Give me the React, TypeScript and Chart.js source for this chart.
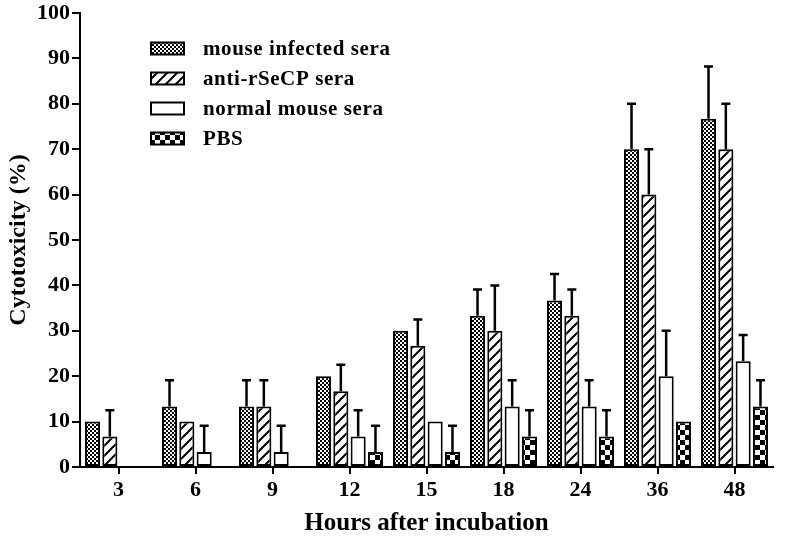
import { useEffect, useRef } from 'react';
import { Chart, registerables } from 'chart.js';

Chart.register(...registerables);

const categories = ['3', '6', '9', '12', '15', '18', '24', '36', '48'];
const seriesNames = ['mouse infected sera', 'anti-rSeCP sera', 'normal mouse sera', 'PBS'];
const infected = [10, 13.3, 13.3, 20, 30, 33.3, 36.7, 70, 76.7];
const infectedErr = [0, 5.8, 5.8, 0, 0, 5.8, 5.8, 10, 11.5];
const antiSera = [6.7, 10, 13.3, 16.7, 26.7, 30, 33.3, 60, 70];
const antiErr = [5.8, 0, 5.8, 5.8, 5.8, 10, 5.8, 10, 10];
const normalSera = [0, 3.3, 3.3, 6.7, 10, 13.3, 13.3, 20, 23.3];
const normalErr = [0, 5.8, 5.8, 5.8, 0, 5.8, 5.8, 10, 5.8];
const pbs = [0, 0, 0, 3.3, 3.3, 6.7, 6.7, 10, 13.3];
const pbsErr = [0, 0, 0, 5.8, 5.8, 5.8, 5.8, 0, 5.8];
const yTicks = [0, 10, 20, 30, 40, 50, 60, 70, 80, 90, 100];

const FONT = "'Liberation Serif', 'Times New Roman', serif";

function makePattern(kind: string): CanvasPattern | string {
  const c = document.createElement('canvas');
  const ctx = c.getContext('2d')!;
  if (kind === 'fine') {
    c.width = 4; c.height = 4;
    ctx.fillStyle = '#fff'; ctx.fillRect(0, 0, 4, 4);
    ctx.fillStyle = '#000';
    ctx.fillRect(0, 0, 2, 2); ctx.fillRect(2, 2, 2, 2);
  } else if (kind === 'diag') {
    const s = 10;
    c.width = s; c.height = s;
    ctx.fillStyle = '#fff'; ctx.fillRect(0, 0, s, s);
    ctx.strokeStyle = '#000'; ctx.lineWidth = 2;
    ctx.beginPath();
    ctx.moveTo(-2, s + 2); ctx.lineTo(s + 2, -2);
    ctx.moveTo(-2, 2); ctx.lineTo(2, -2);
    ctx.moveTo(s - 2, s + 2); ctx.lineTo(s + 2, s - 2);
    ctx.stroke();
  } else if (kind === 'checker') {
    const s = 10;
    c.width = s; c.height = s;
    ctx.fillStyle = '#fff'; ctx.fillRect(0, 0, s, s);
    ctx.fillStyle = '#000';
    ctx.fillRect(0, 0, 5, 5); ctx.fillRect(5, 5, 5, 5);
  } else {
    return '#fff';
  }
  return ctx.createPattern(c, 'repeat')!;
}

export default function App() {
  const ref = useRef<HTMLCanvasElement>(null);
  useEffect(() => {
    document.body.style.margin = '0';
    const fills = [makePattern('fine'), makePattern('diag'), makePattern('none'), makePattern('checker')];
    const values = [infected, antiSera, normalSera, pbs];
    const errs = [infectedErr, antiErr, normalErr, pbsErr];

    const errorBars = {
      id: 'errorBars',
      afterDatasetsDraw(chart: any) {
        const ctx = chart.ctx;
        const ys = chart.scales.y;
        ctx.save();
        ctx.strokeStyle = '#000';
        ctx.lineWidth = 2.5;
        chart.data.datasets.forEach((ds: any, i: number) => {
          const meta = chart.getDatasetMeta(i);
          meta.data.forEach((bar: any, j: number) => {
            const e = errs[i][j];
            if (!e) return;
            const top = ys.getPixelForValue(ds.data[j] + e);
            ctx.beginPath();
            ctx.moveTo(bar.x, bar.y);
            ctx.lineTo(bar.x, top);
            ctx.moveTo(bar.x - 4.5, top);
            ctx.lineTo(bar.x + 4.5, top);
            ctx.stroke();
          });
        });
        ctx.restore();
      },
    };

    const customLegend = {
      id: 'customLegend',
      afterDraw(chart: any) {
        const ctx = chart.ctx;
        ctx.save();
        ctx.font = `bold 21px ${FONT}`;
        try { (ctx as any).letterSpacing = '0.6px'; } catch (e) { /* ignore */ }
        ctx.textBaseline = 'middle';
        seriesNames.forEach((name, i) => {
          const y = 48.5 + i * 30;
          ctx.fillStyle = fills[i];
          ctx.fillRect(151, y - 6, 33, 12);
          ctx.strokeStyle = '#000';
          ctx.lineWidth = 2;
          ctx.strokeRect(151, y - 6, 33, 12);
          ctx.fillStyle = '#000';
          ctx.fillText(name, 203, y + 1);
        });
        ctx.restore();
      },
    };

    const chart = new Chart(ref.current!, {
      type: 'bar',
      data: {
        labels: categories,
        datasets: values.map((v, i) => ({
          label: seriesNames[i],
          data: v,
          backgroundColor: fills[i] as any,
          borderColor: '#000',
          borderWidth: 2,
          borderSkipped: false,
          categoryPercentage: 0.9,
          barPercentage: 0.87,
        })),
      },
      options: {
        animation: false,
        responsive: false,
        layout: { padding: { top: 12, right: 12, left: 0, bottom: 0 } },
        plugins: { legend: { display: false }, tooltip: { enabled: false } },
        scales: {
          x: {
            grid: { display: true, drawOnChartArea: false, drawTicks: true, tickLength: 7, offset: false, color: '#000', lineWidth: 2 },
            border: { display: true, color: '#000', width: 2 },
            ticks: { color: '#000', font: { family: FONT, size: 22, weight: 'bold', lineHeight: 1 }, padding: 5 },
            title: { display: true, text: 'Hours after incubation', color: '#000', font: { family: FONT, size: 25, weight: 'bold', lineHeight: 1 }, padding: { top: 0, bottom: 0 } },
            afterFit(scale: any) { scale.height = 69; },
          },
          y: {
            min: 0,
            max: 100,
            afterBuildTicks(scale: any) { scale.ticks = yTicks.map((v) => ({ value: v })); },
            grid: { display: true, drawOnChartArea: false, drawTicks: true, tickLength: 8, color: '#000', lineWidth: 2 },
            border: { display: true, color: '#000', width: 2 },
            ticks: { color: '#000', font: { family: FONT, size: 22, weight: 'bold', lineHeight: 1 }, padding: 2 },
            title: { display: true, text: 'Cytotoxicity (%)', color: '#000', font: { family: FONT, size: 24, weight: 'bold' }, padding: { top: 4, bottom: 2 } },
            afterFit(scale: any) { scale.width = 80; },
          },
        },
      },
      plugins: [errorBars, customLegend],
    });
    return () => chart.destroy();
  }, []);
  return (
    <div style={{ width: 785, height: 536 }}>
      <canvas ref={ref} width={785} height={536} style={{ display: 'block' }} />
    </div>
  );
}
